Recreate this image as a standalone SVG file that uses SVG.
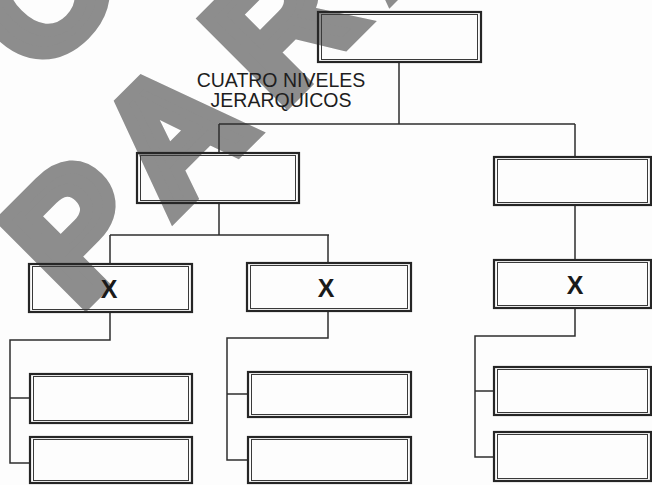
<svg xmlns="http://www.w3.org/2000/svg" width="652" height="485" viewBox="0 0 652 485">
<style>
.wm{font-family:"Liberation Sans",Arial,sans-serif;font-weight:bold;font-size:170px;fill:#8d8d8d;stroke:#8d8d8d;stroke-width:13;stroke-linejoin:miter;letter-spacing:31px}
.outer{fill:none;stroke:#262626;stroke-width:2.2}
.inner{fill:none;stroke:#3a3a3a;stroke-width:1}
.con{fill:none;stroke:#2e2e2e;stroke-width:1.5}
.lbl{font-family:"Liberation Sans",Arial,sans-serif;font-size:19.5px;fill:#1e1e1e;text-anchor:middle}
.x{font-family:"Liberation Sans",Arial,sans-serif;font-weight:bold;font-size:25px;fill:#1a1a1a;text-anchor:middle}
</style>
<rect width="652" height="485" fill="#fdfdfd"/>
<g id="watermark" transform="translate(77.7,311.1) rotate(-45)">
<text class="wm" x="-19" y="-193">CO</text>
<text class="wm" x="0" y="0">PARA</text>
</g>
<g id="connectors">
<path class="con" d="M399,62 V124 M219,124 H575 M219,124 V153 M575,124 V157"/>
<path class="con" d="M219,203 V235 M110,235 H329 M110,235 V264 M328,235 V263 M575,205 V260"/>
<path class="con" d="M110,312 V340 H10 V463 H30 M10,398 H30"/>
<path class="con" d="M328,311 V338 H227 V460 H248 M227,394 H248"/>
<path class="con" d="M575,308 V336 H475 V457 H494 M475,391 H494"/>
</g>
<g id="top"><rect class="outer" x="318" y="12" width="163" height="50"/><rect class="inner" x="321.5" y="14.5" width="156" height="45"/></g>
<g id="label"><text class="lbl" x="281" y="87">CUATRO NIVELES</text><text class="lbl" x="281" y="107">JERARQUICOS</text></g>
<g id="n2a"><rect class="outer" x="137" y="153" width="162" height="50"/><rect class="inner" x="140.5" y="155.5" width="155" height="45"/></g>
<g id="n2b"><rect class="outer" x="494" y="157" width="157" height="48"/><rect class="inner" x="497.5" y="159.5" width="150" height="43"/></g>
<g id="n3a"><rect class="outer" x="29" y="264" width="163" height="48"/><rect class="inner" x="32.5" y="266.5" width="156" height="43"/><text class="x" x="109" y="298">X</text></g>
<g id="n3b"><rect class="outer" x="247" y="263" width="164" height="48"/><rect class="inner" x="250.5" y="265.5" width="157" height="43"/><text class="x" x="326" y="297">X</text></g>
<g id="n3c"><rect class="outer" x="494" y="260" width="157" height="48"/><rect class="inner" x="497.5" y="262.5" width="150" height="43"/><text class="x" x="575" y="294">X</text></g>
<g id="n4a1"><rect class="outer" x="30" y="374" width="162" height="49"/><rect class="inner" x="33.5" y="376.5" width="155" height="44"/></g>
<g id="n4a2"><rect class="outer" x="30" y="437" width="162" height="46"/><rect class="inner" x="33.5" y="439.5" width="155" height="41"/></g>
<g id="n4b1"><rect class="outer" x="248" y="372" width="163" height="45"/><rect class="inner" x="251.5" y="374.5" width="156" height="40"/></g>
<g id="n4b2"><rect class="outer" x="248" y="437" width="163" height="46"/><rect class="inner" x="251.5" y="439.5" width="156" height="41"/></g>
<g id="n4c1"><rect class="outer" x="494" y="367" width="157" height="48"/><rect class="inner" x="497.5" y="369.5" width="150" height="43"/></g>
<g id="n4c2"><rect class="outer" x="494" y="432" width="157" height="49"/><rect class="inner" x="497.5" y="434.5" width="150" height="44"/></g>
</svg>
